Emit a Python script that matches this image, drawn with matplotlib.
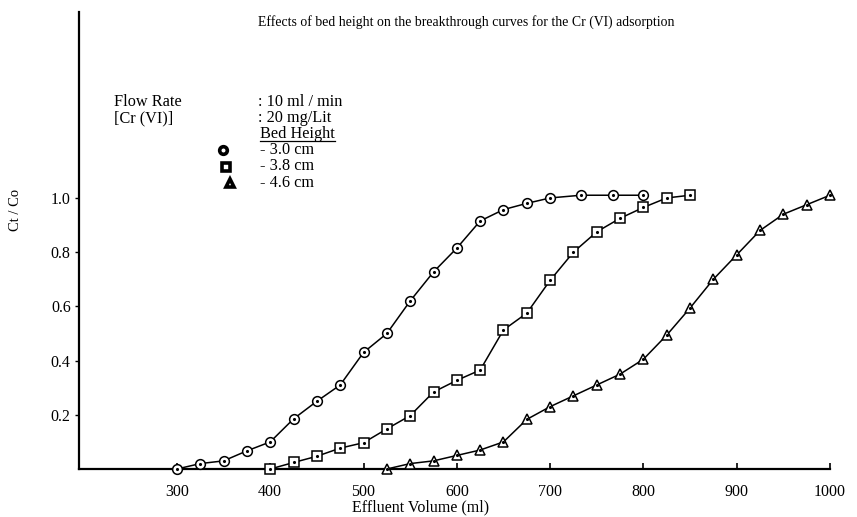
import matplotlib
matplotlib.use("Agg")
import matplotlib.pyplot as plt
from matplotlib.lines import Line2D

plt.rcParams['font.family'] = ['Liberation Serif', 'DejaVu Serif']

# bed height 3.0 cm (circles)
vol_30 = [300, 325, 350, 375, 400, 425, 450, 475, 500, 525, 550, 575, 600,
          625, 650, 675, 700, 733, 767, 800]
ct_30 = [0.0, 0.02, 0.03, 0.067, 0.10, 0.185, 0.25, 0.31, 0.43, 0.50, 0.62,
         0.727, 0.815, 0.915, 0.957, 0.98, 1.0, 1.01, 1.01, 1.01]

# bed height 3.8 cm (squares)
vol_38 = [400, 425, 450, 475, 500, 525, 550, 575, 600, 625, 650, 675, 700,
          725, 750, 775, 800, 825, 850]
ct_38 = [0.0, 0.024, 0.047, 0.077, 0.097, 0.148, 0.197, 0.284, 0.327, 0.365,
         0.513, 0.575, 0.696, 0.80, 0.875, 0.925, 0.965, 1.0, 1.01]

# bed height 4.6 cm (triangles)
vol_46 = [525, 550, 575, 600, 625, 650, 675, 700, 725, 750, 775, 800, 825,
          850, 875, 900, 925, 950, 975, 1000]
ct_46 = [0.0, 0.02, 0.03, 0.05, 0.07, 0.10, 0.183, 0.23, 0.27, 0.31, 0.35,
         0.405, 0.494, 0.594, 0.70, 0.79, 0.88, 0.94, 0.975, 1.01]

x_ticks = [300, 400, 500, 600, 700, 800, 900, 1000]
y_ticks = [0.2, 0.4, 0.6, 0.8, 1.0]

W, H = 857, 517
fig = plt.figure(figsize=(W / 100, H / 100), dpi=100)


def fx(px):
    return px / W


def fy(py):
    return 1 - py / H


ax = fig.add_axes([fx(79), fy(469), fx(830) - fx(79), fy(12) - fy(469)])
ax.set_xlim(195, 1000)
ax.set_ylim(0, 1.686)

series = [(vol_30, ct_30, 'o', 7), (vol_38, ct_38, 's', 6.5), (vol_46, ct_46, '^', 7)]
for xs, ys, mk, ms in series:
    ax.plot(xs, ys, color='black', lw=1.1, marker=mk, ms=ms, mfc='white',
            mec='black', mew=1.1, clip_on=False, zorder=3)
    ax.plot(xs, ys, ls='none', marker='.', ms=2.5, color='black',
            clip_on=False, zorder=4)

for s in ['top', 'right']:
    ax.spines[s].set_visible(False)
ax.spines['left'].set_linewidth(1.6)
ax.spines['bottom'].set_linewidth(1.6)

ax.set_xticks(x_ticks)
ax.set_xticklabels([str(v) for v in x_ticks], fontsize=11.5)
ax.set_yticks(y_ticks)
ax.set_yticklabels(['%.1f' % v for v in y_ticks], fontsize=11.5)
ax.tick_params(axis='x', direction='in', length=4, width=1.2, pad=11)
ax.tick_params(axis='y', direction='out', length=3, width=1.0, pad=3)

fig.text(fx(16), fy(210), 'Ct / Co', rotation=90, fontsize=10.5,
         ha='center', va='center')
fig.text(fx(421), fy(507), 'Effluent Volume (ml)', fontsize=11.5,
         ha='center', va='center')

fig.text(fx(258), fy(22), 'Effects of bed height on the breakthrough curves '
         'for the Cr (VI) adsorption', fontsize=9.9, ha='left', va='center')

# annotation block
fs = 11.7
fig.text(fx(114), fy(102), 'Flow Rate', fontsize=fs, ha='left', va='center')
fig.text(fx(114), fy(118), '[Cr (VI)]', fontsize=fs, ha='left', va='center')
fig.text(fx(258), fy(102), ': 10 ml / min', fontsize=fs, ha='left', va='center')
fig.text(fx(258), fy(118), ': 20 mg/Lit', fontsize=fs, ha='left', va='center')
bh = fig.text(fx(260), fy(134), 'Bed Height', fontsize=fs, ha='left', va='center')
labels = ['- 3.0 cm', '- 3.8 cm', '- 4.6 cm']
marks = ['o', 's', '^']
key_x = [223, 226, 230]
for i, (lab, mk) in enumerate(zip(labels, marks)):
    yy = 150 + i * 16.5
    fig.text(fx(260), fy(yy), lab, fontsize=fs, ha='left', va='center')
    fig.add_artist(Line2D([fx(key_x[i])], [fy(yy)], marker=mk, ms=5.5,
                          mfc='white', mec='black', mew=2.6, ls='none'))

fig.canvas.draw()
bb = bh.get_window_extent().transformed(fig.transFigure.inverted())
fig.add_artist(Line2D([bb.x0, bb.x1], [bb.y0 + 0.002, bb.y0 + 0.002],
                      color='black', lw=0.9))

fig.savefig('out.png', dpi=100)
